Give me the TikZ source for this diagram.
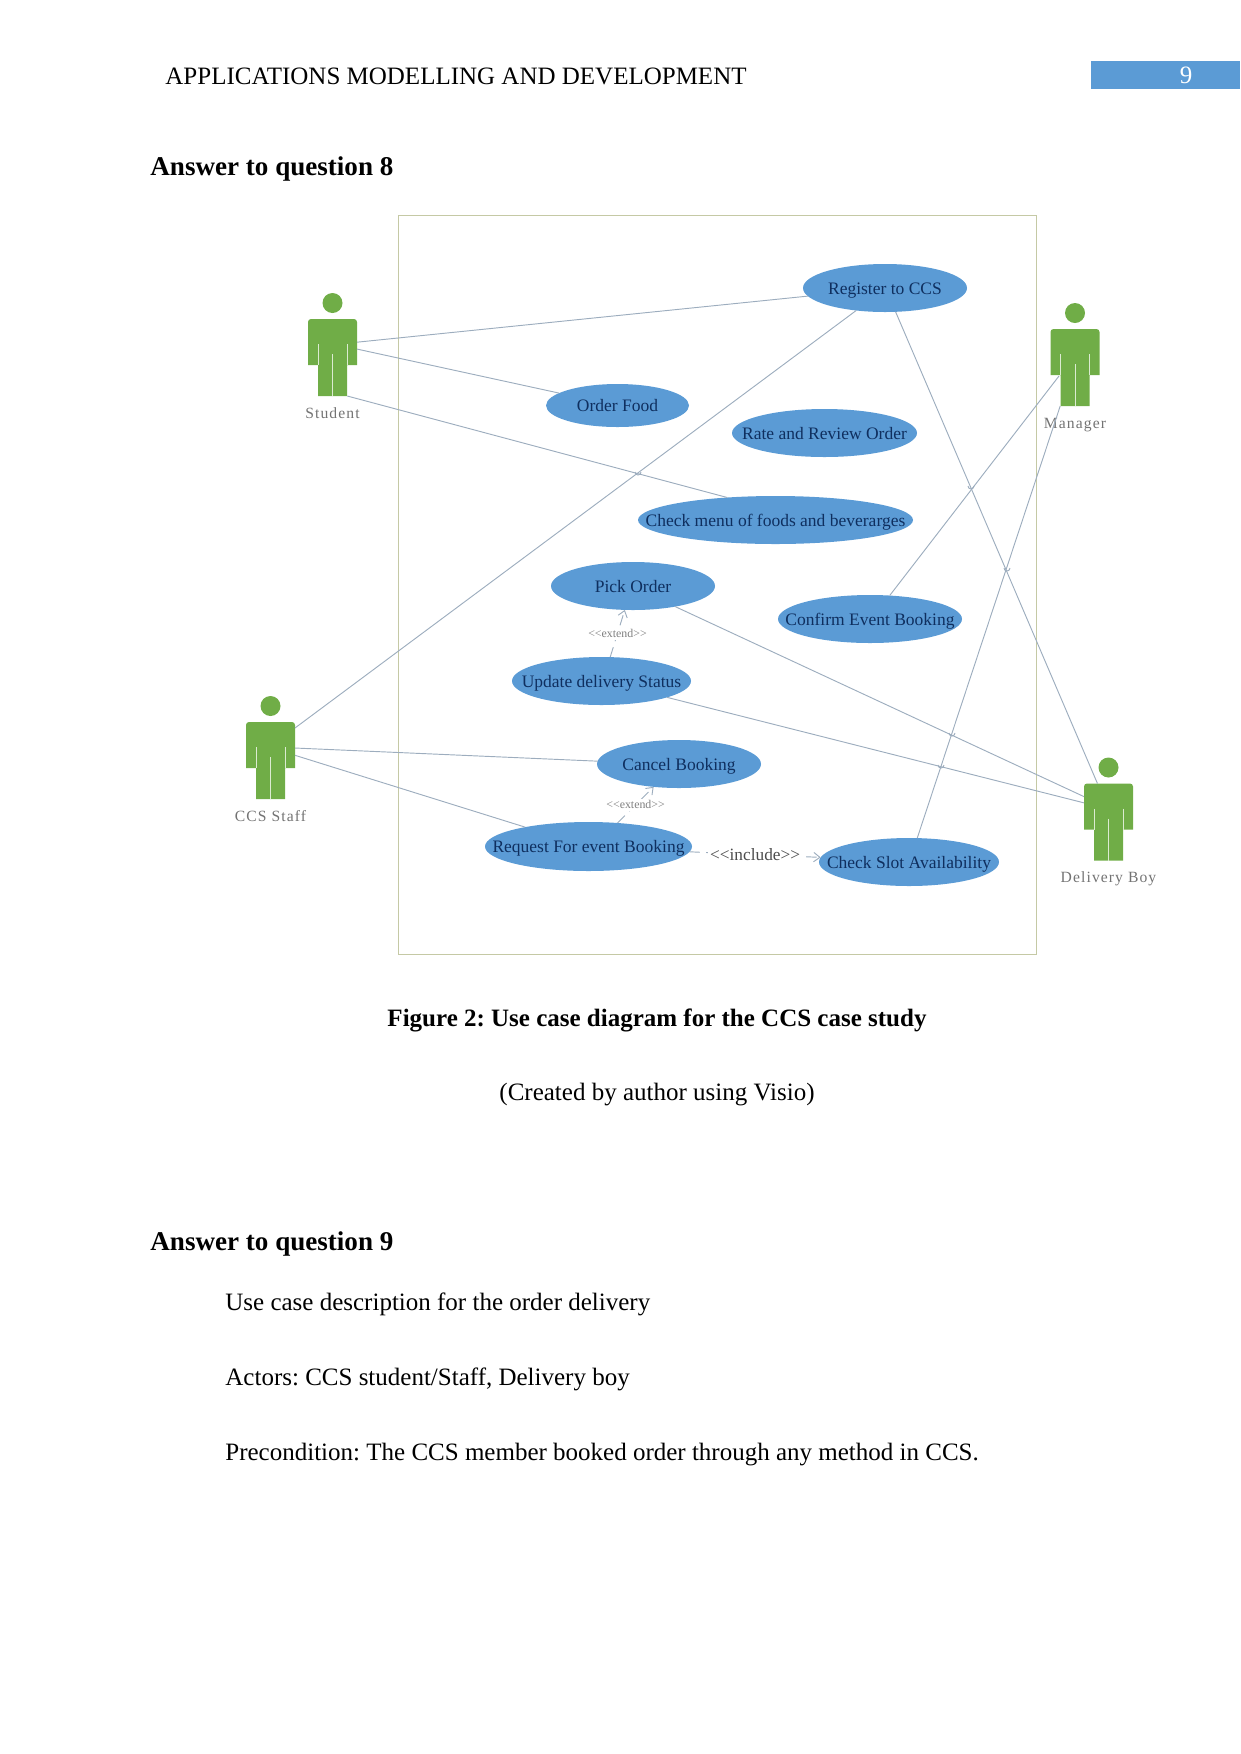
\documentclass[tikz,border=0pt]{standalone}
\usepackage{fontspec}
\setmainfont{Liberation Serif}
\newfontfamily\actorfont[LetterSpace=7]{Liberation Serif}
\usetikzlibrary{positioning, shapes.geometric, arrows.meta}
\definecolor{ucblue}{HTML}{5B9BD5}
\definecolor{ucnavy}{HTML}{0F2F5F}
\definecolor{actorgreen}{HTML}{70AD47}
\definecolor{assocgrey}{HTML}{9DADBE}
\definecolor{boxolive}{HTML}{C5C9A5}
\def\px{0.48pt}
\frenchspacing
\newcommand{\uclabel}[1]{\makebox[0pt]{#1}}
\tikzset{
  usecase/.style={ellipse, fill=ucblue, text=ucnavy, inner sep=0pt, outer sep=0pt, minimum height=48*\px, text height=6.5pt, text depth=0.6pt, font=\fontsize{8.4}{9}\selectfont},
  actor/.style={rectangle, inner sep=0pt, outer sep=0pt, minimum width=49*\px, minimum height=77*\px,
    path picture={
      \begin{scope}[shift={(path picture bounding box.center)}]
        \fill[actorgreen] (-24.5,7.5) [rounded corners=3*\px] -- (-24.5,-38.5) -- (24.5,-38.5) [sharp corners] -- (24.5,7.5) -- (14.5,7.5) -- (14.5,38.5) -- (-14.5,38.5) -- (-14.5,7.5) -- cycle;
        \draw[white!75!actorgreen, line width=0.4pt] (-14.5,-13.5) -- (-14.5,7.5) (14.5,-13.5) -- (14.5,7.5) (0,-3.5) -- (0,38.5);
      \end{scope}
    }},
  actorhead/.style={circle, fill=actorgreen, inner sep=0pt, outer sep=0pt, minimum size=20*\px},
  actorname/.style={text=black!55, inner sep=0pt, text height=5.8pt, text depth=0.8pt, font=\fontsize{7.5}{9}\selectfont\actorfont},
  assoc/.style={draw=assocgrey, line width=0.45pt},
  dep/.style={draw=assocgrey, line width=0.45pt, dashed, dash pattern=on 5pt off 3pt, -{Straight Barb[length=3pt,width=4.5pt]}},
  stereo/.style={text=black!50, fill=white, inner sep=1pt, font=\fontsize{5.7}{6}\selectfont},
  bodytext/.style={inner sep=0pt, anchor=base west, font=\fontsize{12}{14}\selectfont},
  headtext/.style={inner sep=0pt, anchor=base west, font=\fontsize{13}{15}\selectfont\bfseries}
}
\begin{document}
\begin{tikzpicture}[x=\px,y=-\px,on grid]
  \useasboundingbox (0,0) rectangle (1241,1754);
  % running head
  \node[bodytext] (runninghead) at (165,84) {APPLICATIONS MODELLING AND DEVELOPMENT};
  \node[fill=ucblue, inner sep=0pt, outer sep=0pt, minimum width=149*\px, minimum height=28*\px, text=white, font=\fontsize{12}{14}\selectfont] (pageno) at (1165.5,75) {\hspace{19.7pt}9};
  \node[headtext] (answer8) at (150,175) {Answer to question 8};
  % system boundary
  \node[draw=boxolive, line width=0.45pt, inner sep=0pt, minimum width=638*\px, minimum height=739*\px] (boundary) at (717,584.5) {};
  % use cases
  \node[usecase, minimum width=164*\px] (register) at (885,288) {\uclabel{Register to CCS}};
  \node[usecase, minimum width=143*\px, minimum height=43*\px] (order) [below left=117.5*\px and 267.5*\px of register] {\uclabel{Order Food}};
  \node[usecase, minimum width=185*\px] (rate) [below=145*\px of register, xshift=-60.5*\px] {\uclabel{Rate and Review Order}};
  \node[usecase, minimum width=275*\px] (menu) [below left=87*\px and 49*\px of rate] {\uclabel{Check menu of foods and beverarges}};
  \node[usecase, minimum width=164*\px] (pick) [below left=66*\px and 142.5*\px of menu] {\uclabel{Pick Order}};
  \node[usecase, minimum width=184*\px] (confirm) [below right=33*\px and 237*\px of pick] {\uclabel{Confirm Event Booking}};
  \node[usecase, minimum width=179*\px] (update) [below left=95*\px and 31.5*\px of pick] {\uclabel{Update delivery Status}};
  \node[usecase, minimum width=164*\px] (cancel) [below right=83*\px and 77.5*\px of update] {\uclabel{Cancel Booking}};
  \node[usecase, minimum width=207*\px, minimum height=49*\px] (request) [below left=82.5*\px and 90.5*\px of cancel] {\uclabel{Request For event Booking}};
  \node[usecase, minimum width=180*\px] (slot) [right=320.5*\px of request, yshift=-15.5*\px] {\uclabel{Check Slot Availability}};
  % actors
  \node[actor] (student) at (332.5,357.5) {};
  \node[actorhead] (student_head) [above=54.5*\px of student] {};
  \node[actorname] (student_name) [below=55.5*\px of student] {Student};
  \node[actor] (manager) at (1075,367.5) {};
  \node[actorhead] (manager_head) [above=54.5*\px of manager] {};
  \node[actorname] (manager_name) [below=55.5*\px of manager] {Manager};
  \node[actor] (staff) at (270.5,760.5) {};
  \node[actorhead] (staff_head) [above=54.5*\px of staff] {};
  \node[actorname] (staff_name) [below=55.5*\px of staff] {CCS Staff};
  \node[actor] (boy) at (1108.5,822) {};
  \node[actorhead] (boy_head) [above=54.5*\px of boy] {};
  \node[actorname] (boy_name) [below=55.5*\px of boy] {Delivery Boy};
  \coordinate (manager_hip) at (1059,376);
  % associations
  \path[assoc]
  (student.32) edge (register.186.5)
  (student.19) edge (order.168)
  (student.291) edge (menu.155)
  (staff.53) edge (register.218.7)
  (staff.27) edge (cancel.178)
  (staff.12.8) edge (request.163)
  (manager_hip) edge (confirm.50)
  (manager.249) edge (slot.71.6)
  (boy.106.8) edge (register.294)
  (boy.134.4) edge (pick.334.5)
  (boy.142.2) edge (update.346);
  % line hops at the crossings
  \foreach \hopx/\hopy in {638/472, 971/486, 1007/568, 952/733, 941/765}
    \draw[assoc] (\hopx-3,\hopy) arc[start angle=180, end angle=0, radius=3];
  % dependencies
  \path[dep] (update.70.5) -- node[stereo] (extend_a) {<{}<extend>{}>} (pick.251.6);
  \path[dep] (request.39.5) -- node[stereo] (extend_b) {<{}<extend>{}>} (cancel.222.6);
  \path[dep] (request.357) -- node[text=black!70, fill=white, inner sep=1pt, font=\fontsize{8.3}{9}\selectfont] (include_a) {<{}<include>{}>} (slot.177.4);
  % caption and text
  \node[inner sep=0pt, font=\fontsize{12}{14}\selectfont\bfseries, anchor=base] (caption) at (657,1026) {Figure 2: Use case diagram for the CCS case study};
  \node[inner sep=0pt, font=\fontsize{12}{14}\selectfont, anchor=base] (credit) at (657,1100) {(Created by author using Visio)};
  \node[headtext] (answer9) at (150,1250) {Answer to question 9};
  \node[bodytext] (desc) at (225,1310) {Use case description for the order delivery};
  \node[bodytext] (actors) at (225,1385) {Actors: CCS student/Staff, Delivery boy};
  \node[bodytext] (precond) at (225,1460) {Precondition: The CCS member booked order through any method in CCS.};
\end{tikzpicture}
\end{document}
